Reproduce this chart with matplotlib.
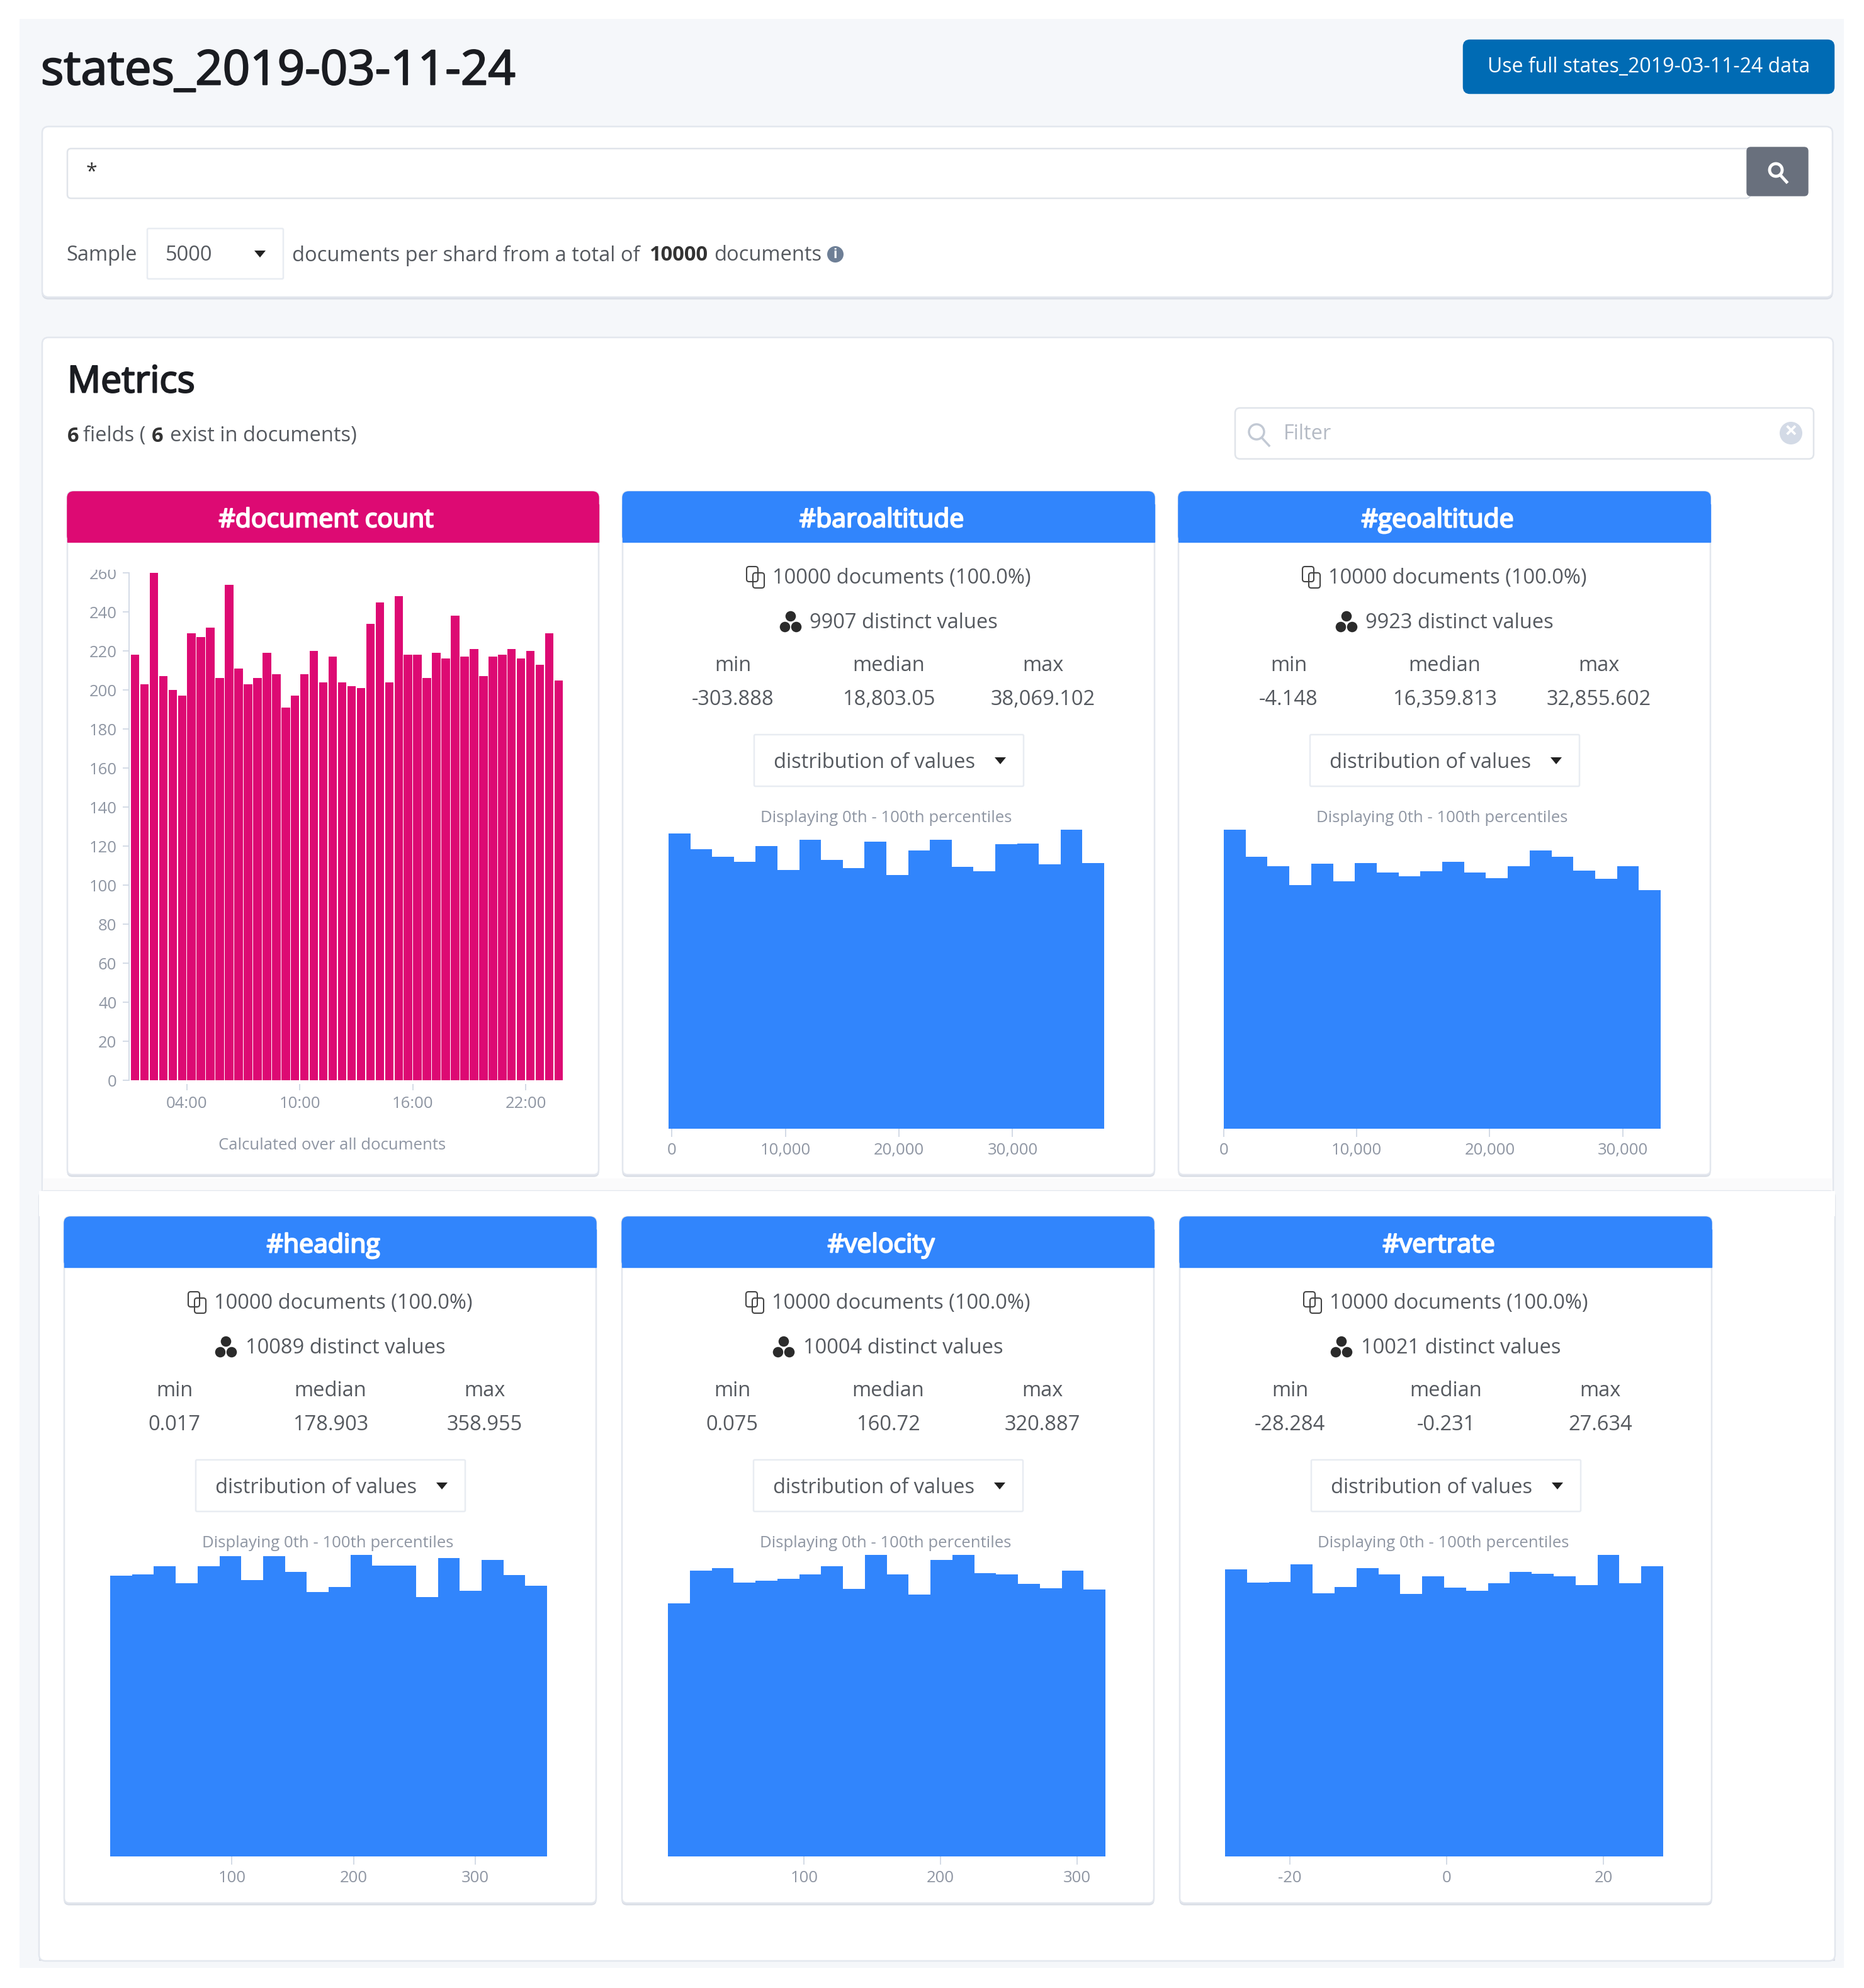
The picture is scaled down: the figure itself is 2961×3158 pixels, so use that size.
import matplotlib
matplotlib.use('Agg')
import matplotlib.pyplot as plt
import matplotlib.patheffects as pe
from matplotlib.patches import FancyBboxPatch, Rectangle, Circle, Polygon
from matplotlib.transforms import Bbox
import numpy as np

W, H = 2961, 3158
PINK = '#DD0A73'
BLUE = '#3185FC'
TEXT = '#55595F'
MUTED = '#8F96A3'
BORDER = '#E3E7EE'
SHADOW = '#DADEE6'

plt.rcParams['font.family'] = ['Open Sans', 'DejaVu Sans']

# document count per half hour, 01:00 to 24:00
doc_counts = [218, 203, 260, 207, 200, 197, 229, 227, 232, 206, 254, 211, 203, 206, 219, 208,
              191, 197, 208, 220, 204, 217, 204, 202, 201, 234, 245, 204, 248, 218, 218, 206,
              219, 216, 238, 217, 221, 207, 217, 218, 221, 216, 220, 213, 229, 205]
doc_yticks = list(range(0, 261, 20))
doc_xticks = [4, 10, 16, 22]
doc_xlabels = ['04:00', '10:00', '16:00', '22:00']

# estimated documents per bin for the metric fields
baroaltitude = [542, 513, 499, 490, 519, 475, 531, 494, 478, 527, 466, 511, 531, 481, 473, 522, 524, 486, 549, 488]
geoaltitude = [573, 521, 503, 467, 508, 474, 509, 491, 484, 493, 512, 491, 480, 503, 533, 521, 495, 479, 503, 457]
heading = [495, 498, 512, 482, 512, 530, 488, 530, 502, 467, 475, 532, 513, 513, 458, 526, 469, 523, 497, 478]
velocity = [452, 511, 515, 489, 493, 496, 504, 519, 478, 539, 504, 468, 530, 539, 506, 504, 487, 479, 511, 477]
vertrate = [516, 492, 493, 525, 473, 484, 518, 507, 472, 503, 483, 478, 491, 512, 508, 504, 488, 542, 491, 522]

field_names = ['baroaltitude', 'geoaltitude', 'heading', 'velocity', 'vertrate']
field_counts = [baroaltitude, geoaltitude, heading, velocity, vertrate]
field_distinct = ['9907', '9923', '10089', '10004', '10021']
field_min = [-303.888, -4.148, 0.017, 0.075, -28.284]
field_max = [38069.102, 32855.602, 358.955, 320.887, 27.634]
min_labels = ['-303.888', '-4.148', '0.017', '0.075', '-28.284']
median_labels = ['18,803.05', '16,359.813', '178.903', '160.72', '-0.231']
max_labels = ['38,069.102', '32,855.602', '358.955', '320.887', '27.634']
field_ticks = [[0, 10000, 20000, 30000], [0, 10000, 20000, 30000], [100, 200, 300], [100, 200, 300], [-20, 0, 20]]
field_ticklabels = [['0', '10,000', '20,000', '30,000'], ['0', '10,000', '20,000', '30,000'],
                    ['100', '200', '300'], ['100', '200', '300'], ['-20', '0', '20']]

# card left edge, row offset, histogram left and right
card_left = [989, 1872, 102, 988, 1874]
row_shift = [0, 0, 1152, 1152, 1152]
hist_left = [1062, 1944, 175, 1061, 1946]
hist_right = [1754, 2638, 869, 1756, 2642]

fig = plt.figure(figsize=(W / 100, H / 100), dpi=100, facecolor='white')
bg = fig.add_axes([0, 0, 1, 1], zorder=0)
bg.set_xlim(0, W)
bg.set_ylim(H, 0)
bg.axis('off')


def box(x0, y0, x1, y1, r=6, fc='white', ec=BORDER, lw=1.8, z=1):
    patch = FancyBboxPatch((x0 + r, y0 + r), x1 - x0 - 2 * r, y1 - y0 - 2 * r,
                           boxstyle=f'round,pad={r},rounding_size={r}',
                           fc=fc, ec=ec, lw=lw, zorder=z)
    bg.add_patch(patch)


def panel(x0, y0, x1, y1, r=10, z=1):
    box(x0, y0 + 3, x1, y1 + 3, r, fc=SHADOW, ec=SHADOW, lw=1, z=z)
    box(x0, y0, x1, y1, r, z=z + 0.1)


def label(x, y, s, size=23.5, color=TEXT, ha='center', heavy=False, weight='normal'):
    t = bg.text(x, y + 4, s, fontsize=size, color=color, ha=ha, va='center', fontweight=weight, zorder=5)
    if heavy:
        # stands in for the semibold cut, keeps the regular text width
        t.set_path_effects([pe.withStroke(linewidth=1.6, foreground=color)])


def caret(x, y, color='#222222'):
    bg.add_patch(Polygon([[x - 9, y - 5], [x + 9, y - 5], [x, y + 6]], fc=color, ec='none', zorder=5))


def doc_icon(x, y):
    for dx, dy in [(-6, -5), (4, 5)]:
        box(x + dx - 9, y + dy - 12, x + dx + 9, y + dy + 12, r=4, fc='none', ec='#444444', lw=1.5, z=5)


def distinct_icon(x, y):
    for dx, dy in [(-9, 9), (9, 9), (0, -8)]:
        bg.add_patch(Circle((x + dx, y + dy), 9, fc='#2B2B2B', ec='white', lw=1, zorder=5))


def header(x0, y0, x1, y1, color, s):
    box(x0, y0, x1, y1, r=10, fc=color, ec=color, lw=1, z=3)
    bg.add_patch(Rectangle((x0, y0 + 20), x1 - x0, y1 - y0 - 20, fc=color, ec=color, lw=1, zorder=3))
    label((x0 + x1) / 2 - 11, (y0 + y1) / 2 + 2, s, size=29.5, color='white', heavy=True)


def chart_axes(left, top, right, bottom):
    ax = fig.add_axes([left / W, 1 - bottom / H, (right - left) / W, (bottom - top) / H], zorder=2)
    ax.patch.set_visible(False)
    for side in ['top', 'right', 'left', 'bottom']:
        ax.spines[side].set_visible(False)
    ax.tick_params(axis='both', length=9, width=1.4, color='#D3DAE6', labelcolor=MUTED, labelsize=18.5, pad=7)
    return ax


# page background
bg.add_patch(Rectangle((31, 30), 2898, 3096, fc='#F5F7FA', ec='none', zorder=0))
label(65, 110, 'states_2019-03-11-24', size=54.8, color='#1A1C21', ha='left', heavy=True)
box(2325, 64, 2913, 148, r=10, fc='#006BB4', ec='#006BB4', z=2)
label(2619, 102, 'Use full states_2019-03-11-24 data', size=23, color='white')

# search panel
panel(67, 201, 2911, 472)
box(107, 236, 2780, 315, r=6, ec='#E0E4EA', z=2)
bg.add_patch(FancyBboxPatch((2781, 240), 85, 65, boxstyle='round,pad=6,rounding_size=6',
                            fc='#69707D', ec='#69707D', zorder=3))
bg.add_patch(Circle((2821, 270), 10, fc='none', ec='white', lw=3.5, zorder=4))
bg.plot([2828, 2838], [278, 289], color='white', lw=3.5, zorder=4)
label(145, 270, '*', size=23, color='#333333')
label(105, 402, 'Sample', color=TEXT, ha='left')
box(234, 363, 450, 443, r=2, ec='#E8ECF2', z=2)
label(263, 402, '5000', ha='left')
caret(413, 403)
label(464, 402, 'documents per shard from a total of', ha='left')
label(1031, 402, '10000', ha='left', color='#333333', weight='bold')
label(1134, 402, 'documents', ha='left')
bg.add_patch(Circle((1327, 404), 13, fc='#6E7F96', ec='none', zorder=5))
bg.text(1327, 404, 'i', color='white', fontsize=15, fontweight='bold', ha='center', va='center', zorder=6)

# metrics panel, the lower screenshot starts at y=1892
panel(67, 536, 2912, 1910)
label(107, 604, 'Metrics', size=42.5, color='#1A1C21', ha='left', heavy=True)
label(107, 689, '6', ha='left', color='#333333', weight='bold')
label(132, 689, 'fields (', ha='left')
label(241, 689, '6', ha='left', color='#333333', weight='bold')
label(270, 689, 'exist in documents)', ha='left')
box(1962, 648, 2881, 729, r=8, ec='#E0E4EA', z=2)
bg.add_patch(Circle((1996, 686), 12, fc='none', ec='#C2C9D4', lw=2.5, zorder=4))
bg.plot([2004, 2016], [695, 708], color='#C2C9D4', lw=2.5, zorder=4)
label(2039, 686, 'Filter', color='#B4BAC4', ha='left')
bg.add_patch(Circle((2845, 688), 18, fc='#D3DAE6', ec='none', zorder=4))
bg.text(2845, 687, '×', color='white', fontsize=26, fontweight='bold', ha='center', va='center', zorder=5)

# faint shading where the upper screenshot ends
bg.add_patch(Rectangle((68, 1872), 2843, 20, fc='#FAFAFB', ec='none', zorder=1.5))
bg.add_patch(Rectangle((62, 1892), 2853, 1223, fc=SHADOW, ec='none', zorder=2))
box(62, 1892, 2915, 3115, r=10, z=2.1)
bg.add_patch(Rectangle((62, 1892), 2853, 40, fc='white', ec='none', zorder=2.2))

# document count card
panel(107, 781, 951, 1866, r=8, z=2.5)
header(107, 781, 951, 861, PINK, '#document count')
ax = chart_axes(207, 910, 895, 1716)
bin_centers = 1.25 + 0.5 * np.arange(len(doc_counts))
ax.bar(bin_centers, doc_counts, width=0.45, color=PINK)
ax.set_xlim(1, 24)
ax.set_ylim(0, 260)
ax.set_xticks(doc_xticks)
ax.set_xticklabels(doc_xlabels)
ax.set_yticks(doc_yticks)
ax.spines['left'].set_visible(True)
ax.spines['left'].set_color('#D3DAE6')
ax.spines['left'].set_linewidth(1.4)
ax.spines['left'].set_position(('outward', 1.5))
ax.spines['bottom'].set_position(('outward', 4))
ax.tick_params(axis='x', length=7)
ax.tick_params(axis='y', length=7)
# the top label is cut off by the chart frame in the original
top_label = ax.get_yticklabels()[-1]
top_label.set_clip_on(True)
top_label.set_clip_box(Bbox([[0, 0], [W, H - 905]]))
label(528, 1815, 'Calculated over all documents', size=18.5, color=MUTED)

# metric cards
for i, name in enumerate(field_names):
    x0 = card_left[i]
    dy = row_shift[i]
    panel(x0, 781 + dy, x0 + 845, (1866 if dy == 0 else 3023), r=8, z=2.5)
    header(x0, 781 + dy, x0 + 845, 861 + dy, BLUE, '#' + name)

    label(x0 + 238, 915 + dy, '10000 documents (100.0%)', ha='left')
    doc_icon(x0 + 212, 917 + dy)
    if len(field_distinct[i]) == 4:
        text_x, icon_x = x0 + 297, x0 + 267
    else:
        text_x, icon_x = x0 + 288, x0 + 257
    label(text_x, 985 + dy, field_distinct[i] + ' distinct values', ha='left')
    distinct_icon(icon_x, 987 + dy)

    label(x0 + 175, 1054 + dy, 'min')
    label(x0 + 423, 1054 + dy, 'median')
    label(x0 + 668, 1054 + dy, 'max')
    label(x0 + 175, 1107 + dy, min_labels[i])
    label(x0 + 423, 1107 + dy, median_labels[i])
    label(x0 + 668, 1107 + dy, max_labels[i])

    box(x0 + 209, 1167 + dy, x0 + 637, 1249 + dy, r=2, ec='#E8ECF2', z=3)
    label(x0 + 400, 1207 + dy, 'distribution of values')
    caret(x0 + 600, 1208 + dy)
    label(x0 + 419, 1295 + dy, 'Displaying 0th - 100th percentiles', size=18.5, color=MUTED)

    ax = chart_axes(hist_left[i], 1318 + dy, hist_right[i], 1793 + dy + (4 if dy else 0))
    edges = np.linspace(field_min[i], field_max[i], len(field_counts[i]) + 1)
    ax.stairs(field_counts[i], edges, fill=True, color=BLUE)
    ax.set_xlim(field_min[i], field_max[i])
    ax.set_ylim(0, max(field_counts[i]))
    ax.set_yticks([])
    ax.set_xticks(field_ticks[i])
    ax.set_xticklabels(field_ticklabels[i])

fig.savefig('out.png', dpi=100)
